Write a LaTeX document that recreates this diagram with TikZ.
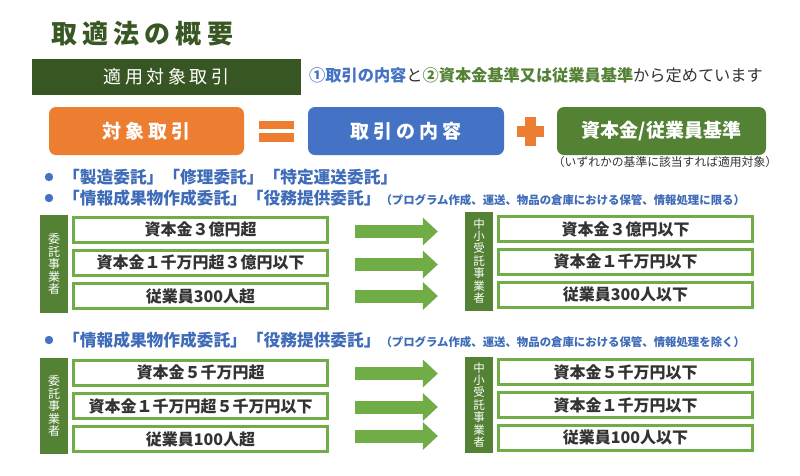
\documentclass[tikz,border=0pt]{standalone}
\usepackage{fontspec}
\setmainfont{Noto Sans CJK JP}
\newfontfamily\jpls{Noto Sans CJK JP}[LetterSpace=20]
\usetikzlibrary{arrows.meta,calc}
\definecolor{titlegreen}{HTML}{385723}
\definecolor{bargreen}{HTML}{375623}
\definecolor{orangeC}{HTML}{ED7D31}
\definecolor{blueC}{HTML}{4472C4}
\definecolor{greenC}{HTML}{548235}
\definecolor{rowgreen}{HTML}{70AD47}
\definecolor{textdark}{HTML}{333333}
\definecolor{bulletblue}{HTML}{3F6CB8}
\newcommand\mysmallfont{\fontsize{11.4}{11.4}\selectfont}
\tikzset{
  topbox/.style={rounded corners=7pt, minimum height=48pt, inner sep=0pt, text=white,
    font=\jpls\bfseries\fontsize{19}{19}\selectfont},
  rowbox/.style={draw=rowgreen, line width=3pt, fill=white, minimum width=254pt,
    minimum height=25pt, inner sep=0pt, text=textdark, font=\bfseries\fontsize{16}{16}\selectfont},
  labbar/.style={fill=greenC, minimum width=28pt, inner sep=0pt, text=white, align=center},
  bigarrow/.style={draw=rowgreen, line width=13pt,
    -{Triangle[width=28pt,length=15pt,line width=0pt]}},
  bullettext/.style={anchor=west, inner sep=0pt, text=bulletblue,
    font=\bfseries\fontsize{16.7}{16.7}\selectfont},
  smallnote/.style={font=\fontsize{11.8}{11.8}\selectfont}
}
\begin{document}
\begin{tikzpicture}[x=1pt,y=-1pt]
\useasboundingbox[fill=white] (0,0) rectangle (800,475);

% title
\node[anchor=west, inner sep=0pt, text=titlegreen,
  font=\jpls\bfseries\fontsize{26}{26}\selectfont] (title) at (51,34) {取適法の概要};

% scope bar
\node[fill=bargreen, minimum width=269pt, minimum height=36pt, inner sep=0pt, text=white,
  font=\jpls\fontsize{18}{18}\selectfont] (apply) at (166.5,77) {適用対象取引};
\node[anchor=west, inner sep=0pt, text=textdark, font=\fontsize{16.2}{16.2}\selectfont] (expl) at (309,75)
  {{\color{blueC}\bfseries ①取引の内容}と{\color{greenC}\bfseries ②資本金基準又は従業員基準}から定めています};

% top equation
\node[topbox, fill=orangeC, minimum width=195pt] (target) at (146.5,131) {対象取引};
\node[topbox, fill=blueC, minimum width=196pt] (content) at (406,131) {取引の内容};
\node[topbox, fill=greenC, minimum width=209pt, font=\bfseries\fontsize{19}{19}\selectfont] (criteria) at (661.5,131) {資本金/従業員基準};
\fill[orangeC] (259,121) rectangle (294,129);
\fill[orangeC] (259,133) rectangle (294,142);
\fill[orangeC] (517,125.5) rectangle (544,136.5);
\fill[orangeC] (525,117) rectangle (536,146);
\node[smallnote, text=textdark, inner sep=0pt] (note) at (665,162) {（いずれかの基準に該当すれば適用対象）};

% bullets section 1
\fill[blueC] (49,177) circle (4.2pt);
\node[bullettext] (b1) at (63,177) {「製造委託」「修理委託」「特定運送委託」};
\fill[blueC] (49,198) circle (4.2pt);
\node[bullettext] (b2) at (63,198) {「情報成果物作成委託」「役務提供委託」{\mysmallfont （プログラム作成、運送、物品の倉庫における保管、情報処理に限る）}};

% section 1 left
\node[labbar, minimum height=98pt, font=\fontsize{12}{12.5}\selectfont] (lb1) at (54,264) {委\\託\\事\\業\\者};
\node[rowbox] (l11) at (200.5,229.5) {資本金３億円超};
\node[rowbox] (l12) at (200.5,262.5) {資本金１千万円超３億円以下};
\node[rowbox] (l13) at (200.5,296) {従業員300人超};
% section 1 right
\node[labbar, minimum height=99pt, font=\fontsize{11.5}{12.4}\selectfont] (rb1) at (479,261) {中\\小\\受\\託\\事\\業\\者};
\node[rowbox] (r11) at (625.5,229) {資本金３億円以下};
\node[rowbox] (r12) at (625.5,261.5) {資本金１千万円以下};
\node[rowbox] (r13) at (625.5,294.5) {従業員300人以下};
\draw[bigarrow] ([xshift=26pt,yshift=-2pt]l11.east) -- ([xshift=-27pt,yshift=-2pt]l11.east -| rb1.west);
\draw[bigarrow] ([xshift=26pt,yshift=-2pt]l12.east) -- ([xshift=-27pt,yshift=-2pt]l12.east -| rb1.west);
\draw[bigarrow] ([xshift=26pt]l13.east) -- ([xshift=-27pt]l13.east -| rb1.west);

% bullet section 2
\fill[blueC] (49,340) circle (4.2pt);
\node[bullettext] (b3) at (63,340) {「情報成果物作成委託」「役務提供委託」{\mysmallfont （プログラム作成、運送、物品の倉庫における保管、情報処理を除く）}};

% section 2 left
\node[labbar, minimum height=96pt, font=\fontsize{12}{12.5}\selectfont] (lb2) at (54,406) {委\\託\\事\\業\\者};
\node[rowbox] (l21) at (200.5,372.5) {資本金５千万円超};
\node[rowbox] (l22) at (200.5,406) {資本金１千万円超５千万円以下};
\node[rowbox] (l23) at (200.5,439) {従業員100人超};
% section 2 right
\node[labbar, minimum height=96pt, font=\fontsize{11.5}{12.4}\selectfont] (rb2) at (479,405) {中\\小\\受\\託\\事\\業\\者};
\node[rowbox] (r21) at (625.5,372) {資本金５千万円以下};
\node[rowbox] (r22) at (625.5,405) {資本金１千万円以下};
\node[rowbox] (r23) at (625.5,437.5) {従業員100人以下};
\draw[bigarrow] ([xshift=26pt,yshift=-1pt]l21.east) -- ([xshift=-27pt,yshift=-1pt]l21.east -| rb2.west);
\draw[bigarrow] ([xshift=26pt,yshift=-1pt]l22.east) -- ([xshift=-27pt,yshift=-1pt]l22.east -| rb2.west);
\draw[bigarrow] ([xshift=26pt,yshift=3pt]l23.east) -- ([xshift=-27pt,yshift=3pt]l23.east -| rb2.west);
\end{tikzpicture}
\end{document}
